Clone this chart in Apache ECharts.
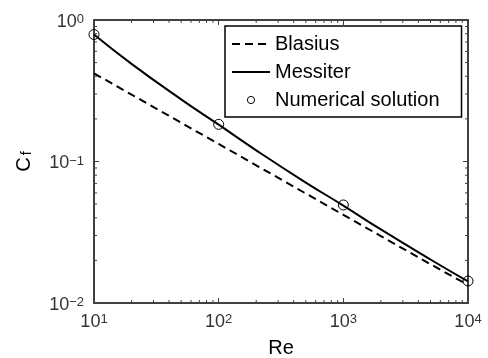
<!DOCTYPE html>
<html>
<head>
<meta charset="utf-8">
<script src="https://cdn.jsdelivr.net/npm/echarts@6/dist/echarts.min.js"></script>
<style>html,body{margin:0;padding:0;background:#fff}#c{width:488px;height:358px}</style>
</head>
<body>
<div id="c"></div>
<script>
// Data
var reValues = [10, 20, 50, 100, 200, 500, 1000, 2000, 5000, 10000];
var blasius = [0.42, 0.297, 0.188, 0.133, 0.094, 0.0594, 0.042, 0.0297, 0.0188, 0.0134];
var messiter = [0.79, 0.49, 0.275, 0.182, 0.12, 0.071, 0.0488, 0.0331, 0.0203, 0.0142];
var numRe = [10, 100, 1000, 10000];
var numCf = [0.79, 0.183, 0.0493, 0.0143];
var xTicks = [10, 100, 1000, 10000];
var yTicks = [0.01, 0.1, 1];
var xMinor = [20, 30, 40, 50, 60, 70, 80, 90, 200, 300, 400, 500, 600, 700, 800, 900,
              2000, 3000, 4000, 5000, 6000, 7000, 8000, 9000];
var yMinor = [0.02, 0.03, 0.04, 0.05, 0.06, 0.07, 0.08, 0.09, 0.2, 0.3, 0.4, 0.5, 0.6, 0.7, 0.8, 0.9];

var X_MIN = xTicks[0], X_MAX = xTicks[xTicks.length - 1];
var Y_MIN = yTicks[0], Y_MAX = yTicks[yTicks.length - 1];

function pairs(xs, ys) { return xs.map(function (x, i) { return [x, ys[i]]; }); }
function expLabel(v) {
  var e = Math.round(Math.log10(v));
  var s = (e < 0 ? '\u2212' + (-e) : String(e));
  return '{b|10}{e|' + s + '}';
}
var FONT = '"Liberation Sans", Arial, Helvetica, sans-serif';
var labelRich = {
  b: { fontSize: 18, lineHeight: 18, verticalAlign: 'bottom', color: '#333', fontFamily: FONT },
  e: { fontSize: 13, lineHeight: 13, padding: [0, 0, 8, 0], verticalAlign: 'top', color: '#333', fontFamily: FONT }
};
var axisCol = '#404040';
function logAxisBase(min, max) {
  return {
    type: 'log', logBase: 10, min: min, max: max,
    axisLine: { show: true, onZero: false, lineStyle: { color: axisCol, width: 2 } },
    axisTick: { show: true, inside: true, length: 5, lineStyle: { color: axisCol, width: 1 } },
    splitLine: { show: false }
  };
}
var xMain = Object.assign(logAxisBase(X_MIN, X_MAX), {
  position: 'bottom',
  axisLabel: { formatter: expLabel, rich: labelRich, margin: 10 },
  name: 'Re', nameLocation: 'middle', nameGap: 34,
  nameTextStyle: { fontSize: 20, color: '#000', fontFamily: FONT }
});
var xTop = Object.assign(logAxisBase(X_MIN, X_MAX), { position: 'top', axisLabel: { show: false } });
var yMain = Object.assign(logAxisBase(Y_MIN, Y_MAX), {
  position: 'left',
  axisLabel: { formatter: expLabel, rich: labelRich, margin: 10, padding: [4, 0, 0, 0] },
  name: '{c|C}{f|f}', nameLocation: 'middle', nameGap: 60, nameRotate: 90,
  nameTextStyle: {
    rich: {
      c: { fontSize: 20, lineHeight: 20, verticalAlign: 'top', color: '#000', fontFamily: FONT },
      f: { fontSize: 14, lineHeight: 14, padding: [13, 0, 0, 2], verticalAlign: 'bottom', color: '#000', fontFamily: FONT }
    }
  }
});
var yRight = Object.assign(logAxisBase(Y_MIN, Y_MAX), { position: 'right', axisLabel: { show: false } });

function minorXTick(params, api) {
  var v = api.value(0);
  var b = api.coord([v, Y_MIN]);
  var t = api.coord([v, Y_MAX]);
  var st = { stroke: axisCol, lineWidth: 1 };
  return { type: 'group', children: [
    { type: 'line', shape: { x1: b[0], y1: b[1], x2: b[0], y2: b[1] - 3 }, style: st },
    { type: 'line', shape: { x1: t[0], y1: t[1], x2: t[0], y2: t[1] + 3 }, style: st }
  ] };
}
function minorYTick(params, api) {
  var v = api.value(1);
  var l = api.coord([X_MIN, v]);
  var r = api.coord([X_MAX, v]);
  var st = { stroke: axisCol, lineWidth: 1 };
  return { type: 'group', children: [
    { type: 'line', shape: { x1: l[0], y1: l[1], x2: l[0] + 3, y2: l[1] }, style: st },
    { type: 'line', shape: { x1: r[0], y1: r[1], x2: r[0] - 3, y2: r[1] }, style: st }
  ] };
}

var chart = echarts.init(document.getElementById('c'), null, { renderer: 'canvas' });
chart.setOption({
  animation: false,
  backgroundColor: '#fff',
  grid: { left: 94, right: 20, top: 20, bottom: 55, containLabel: false, outerBoundsMode: 'none' },
  xAxis: [xMain, xTop],
  yAxis: [yMain, yRight],
  legend: {
    orient: 'vertical', left: 225, top: 26,
    padding: [8, 22, 7, 6], itemGap: 8, itemWidth: 38, itemHeight: 9,
    borderColor: '#000', borderWidth: 1.5, backgroundColor: '#fff',
    textStyle: { fontSize: 20, color: '#000', fontFamily: FONT },
    lineStyle: { width: 2 },
    data: [
      { name: 'Blasius', itemStyle: { color: 'rgba(0,0,0,0)', borderColor: 'rgba(0,0,0,0)', borderWidth: 0 } },
      { name: 'Messiter', itemStyle: { color: 'rgba(0,0,0,0)', borderColor: 'rgba(0,0,0,0)', borderWidth: 0 } },
      { name: 'Numerical solution', lineStyle: { color: 'rgba(0,0,0,0)', width: 0 },
        itemStyle: { color: 'rgba(0,0,0,0)', borderColor: '#000', borderWidth: 1 } }
    ]
  },
  series: [
    { type: 'custom', xAxisIndex: 0, yAxisIndex: 0, data: xMinor.map(function (v) { return [v, Y_MIN]; }),
      renderItem: minorXTick, silent: true, clip: false, z: 1 },
    { type: 'custom', xAxisIndex: 0, yAxisIndex: 0, data: yMinor.map(function (v) { return [X_MIN, v]; }),
      renderItem: minorYTick, silent: true, clip: false, z: 1 },
    { name: 'Blasius', type: 'line', xAxisIndex: 0, yAxisIndex: 0, data: pairs(reValues, blasius),
      showSymbol: false, symbol: 'none', smooth: false, color: '#000',
      lineStyle: { color: '#000', width: 2, type: [8, 5] } },
    { name: 'Messiter', type: 'line', xAxisIndex: 0, yAxisIndex: 0, data: pairs(reValues, messiter),
      showSymbol: false, symbol: 'none', smooth: true, color: '#000',
      lineStyle: { color: '#000', width: 2 } },
    { name: 'Numerical solution', type: 'line', xAxisIndex: 0, yAxisIndex: 0, data: pairs(numRe, numCf),
      symbol: 'circle', symbolSize: 10, showSymbol: true, showAllSymbol: true, clip: false, color: '#000',
      lineStyle: { opacity: 0, width: 0 },
      itemStyle: { color: 'rgba(0,0,0,0)', borderColor: '#000', borderWidth: 1 }, z: 5 }
  ]
});
</script>
</body>
</html>
